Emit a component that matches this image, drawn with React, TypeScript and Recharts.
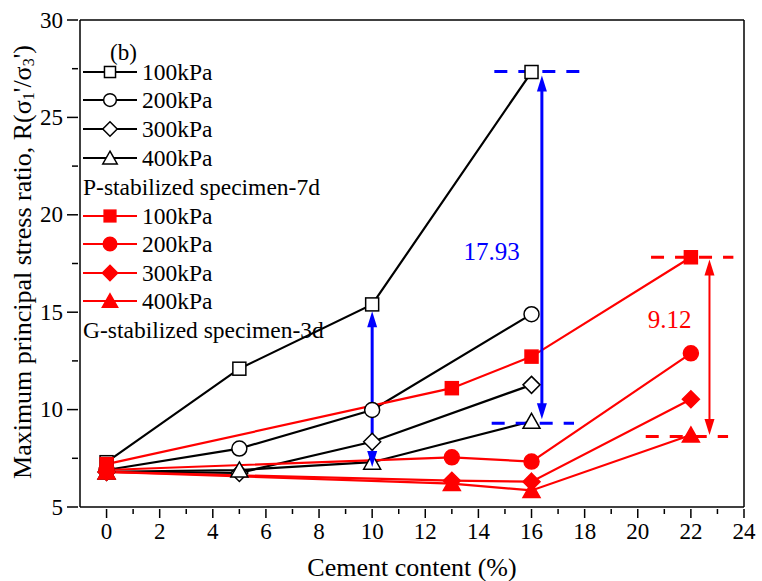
import { LineChart, Line, XAxis, YAxis, ReferenceLine, ReferenceDot } from 'recharts';

const F = "'Liberation Serif', 'Times New Roman', serif";
const RED = '#ff0000';
const BLUE = '#0000ff';

// P-stabilized specimen-7d (black, hollow)
const P_X = [0, 5, 10, 16];
const P_100 = [7.3, 12.1, 15.4, 27.33];
const P_200 = [6.9, 8.0, 9.98, 14.9];
const P_300 = [6.8, 6.75, 8.35, 11.27];
const P_400 = [6.8, 6.9, 7.3, 9.4];

// G-stabilized specimen-3d (red, filled)
const G_X = [0, 13, 16, 22];
const G_100 = [7.2, 11.1, 12.72, 17.82];
const G_200 = [6.9, 7.55, 7.33, 12.89];
const G_300 = [6.8, 6.35, 6.3, 10.53];
const G_400 = [6.8, 6.2, 5.85, 8.7];

const PRESSURES = ['100kPa', '200kPa', '300kPa', '400kPa'];
const SHAPES = ['square', 'circle', 'diamond', 'triangle'];

const X_TICKS = Array.from({ length: 25 }, (_, i) => i);
const Y_TICKS = [5, 7.5, 10, 12.5, 15, 17.5, 20, 22.5, 25, 27.5, 30];

const toRows = (xs: number[], ys: number[]) => xs.map((x, i) => ({ x, y: ys[i] }));

const SERIES = [
  { name: 'P100', data: toRows(P_X, P_100), color: '#000', filled: false, shape: 'square' },
  { name: 'P200', data: toRows(P_X, P_200), color: '#000', filled: false, shape: 'circle' },
  { name: 'P300', data: toRows(P_X, P_300), color: '#000', filled: false, shape: 'diamond' },
  { name: 'P400', data: toRows(P_X, P_400), color: '#000', filled: false, shape: 'triangle' },
  { name: 'G100', data: toRows(G_X, G_100), color: RED, filled: true, shape: 'square' },
  { name: 'G200', data: toRows(G_X, G_200), color: RED, filled: true, shape: 'circle' },
  { name: 'G300', data: toRows(G_X, G_300), color: RED, filled: true, shape: 'diamond' },
  { name: 'G400', data: toRows(G_X, G_400), color: RED, filled: true, shape: 'triangle' },
];

const Marker = ({ cx, cy, shape, filled, color, s = 1 }: { cx: number; cy: number; shape: string; filled: boolean; color: string; s?: number }) => {
  const fill = filled ? color : '#fff';
  const sw = 1.5;
  if (shape === 'square') {
    const h = 6.5 * s;
    return <rect x={cx - h} y={cy - h} width={2 * h} height={2 * h} fill={fill} stroke={color} strokeWidth={sw} />;
  }
  if (shape === 'circle') return <circle cx={cx} cy={cy} r={7.5 * s} fill={fill} stroke={color} strokeWidth={sw} />;
  if (shape === 'diamond') {
    const h = 8.5 * s;
    return <polygon points={`${cx},${cy - h} ${cx + h},${cy} ${cx},${cy + h} ${cx - h},${cy}`} fill={fill} stroke={color} strokeWidth={sw} />;
  }
  const w = 8.5 * s;
  return <polygon points={`${cx},${cy - 8 * s} ${cx + w},${cy + 7 * s} ${cx - w},${cy + 7 * s}`} fill={fill} stroke={color} strokeWidth={sw} />;
};

// plain serif text helper
const T = ({ size, children, ...rest }: any) => (
  <text {...rest} fontSize={size} style={{ fontFamily: F }} dominantBaseline="central">
    {children}
  </text>
);

const XTick = ({ x, y, payload }: any) => {
  const v = payload.value as number;
  const major = v % 2 === 0;
  return (
    <g>
      <line x1={x} x2={x} y1={y} y2={y + (major ? 9 : 5)} stroke="#000" strokeWidth={1.5} />
      {major && (
        <T x={x} y={y + 22} textAnchor="middle" size={23} fill="#000">
          {v}
        </T>
      )}
    </g>
  );
};

const YTick = ({ x, y, payload }: any) => {
  const v = payload.value as number;
  const major = v % 5 === 0;
  return (
    <g>
      <line x1={x} x2={x - (major ? 11 : 6)} y1={y} y2={y} stroke="#000" strokeWidth={1.5} />
      {major && (
        <T x={x - 15} y={y} textAnchor="end" size={23} fill="#000">
          {v}
        </T>
      )}
    </g>
  );
};

const ArrowHead = (dir: 'up' | 'down', color: string) => (props: any) => {
  const { cx, cy } = props;
  const d = dir === 'up' ? 1 : -1;
  return <polygon points={`${cx},${cy} ${cx - 5},${cy + d * 16} ${cx + 5},${cy + d * 16}`} fill={color} />;
};

const TextMark = (text: string, color: string) => (props: any) => (
  <T x={props.cx} y={props.cy} textAnchor="middle" size={25} fill={color}>
    {text}
  </T>
);

const LEG_BLACK_Y = [72, 100, 129, 158];
const LEG_RED_Y = [216, 244, 273, 301];

const Overlay = () => (
  <g fill="#000">
    <T x={110} y={52} size={23}>(b)</T>
    {PRESSURES.map((p, i) => (
      <g key={'b' + p}>
        <line x1={83} x2={137} y1={LEG_BLACK_Y[i]} y2={LEG_BLACK_Y[i]} stroke="#000" strokeWidth={2} />
        <Marker cx={110} cy={LEG_BLACK_Y[i]} shape={SHAPES[i]} filled={false} color="#000" s={0.85} />
        <T x={142} y={LEG_BLACK_Y[i]} size={23.5}>{p}</T>
      </g>
    ))}
    <T x={83} y={187} size={23.5}>P-stabilized specimen-7d</T>
    {PRESSURES.map((p, i) => (
      <g key={'r' + p}>
        <line x1={83} x2={137} y1={LEG_RED_Y[i]} y2={LEG_RED_Y[i]} stroke={RED} strokeWidth={2} />
        <Marker cx={110} cy={LEG_RED_Y[i]} shape={SHAPES[i]} filled color={RED} s={0.9} />
        <T x={142} y={LEG_RED_Y[i]} size={23.5}>{p}</T>
      </g>
    ))}
    <T x={83} y={330} size={23.5}>G-stabilized specimen-3d</T>
    <T x={412} y={567} size={26} textAnchor="middle">Cement content (%)</T>
    <text x={22} y={262} fontSize={26} style={{ fontFamily: F }} textAnchor="middle" dominantBaseline="central" transform="rotate(-90 22 262)">
      Maximum principal stress ratio, R(σ<tspan fontSize={16} dy={6}>1</tspan>
      <tspan dy={-6}>'/σ</tspan>
      <tspan fontSize={16} dy={6}>3</tspan>
      <tspan dy={-6}>')</tspan>
    </text>
  </g>
);

export default function App() {
  return (
    <div style={{ position: 'absolute', left: 0, top: 0, background: '#fff' }}>
      <LineChart width={762} height={581} margin={{ top: 20, right: 18, bottom: 0, left: 0 }}>
        <XAxis
          dataKey="x"
          type="number"
          domain={[-1, 24]}
          ticks={X_TICKS}
          interval={0}
          allowDuplicatedCategory={false}
          height={74}
          tickSize={0}
          tickLine={false}
          tick={<XTick />}
          axisLine={{ stroke: '#000', strokeWidth: 1.5 }}
        />
        <YAxis
          type="number"
          domain={[5, 30]}
          ticks={Y_TICKS}
          interval={0}
          width={80}
          tickSize={0}
          tickLine={false}
          tick={<YTick />}
          axisLine={{ stroke: '#000', strokeWidth: 1.5 }}
        />
        <ReferenceLine y={30} stroke="#000" strokeWidth={1.5} />
        <ReferenceLine x={24} stroke="#000" strokeWidth={1.5} />

        {SERIES.map((s) => (
          <Line
            key={s.name}
            data={s.data}
            dataKey="y"
            type="linear"
            stroke={s.color}
            strokeWidth={2.2}
            isAnimationActive={false}
            dot={(p: any) => <Marker key={s.name + p.index} cx={p.cx} cy={p.cy} shape={s.shape} filled={s.filled} color={s.color} />}
            activeDot={false}
          />
        ))}

        {/* blue: P-stabilized spread */}
        <ReferenceLine segment={[{ x: 14.6, y: 27.35 }, { x: 17.8, y: 27.35 }]} stroke={BLUE} strokeWidth={3} strokeDasharray="13 11" />
        <ReferenceLine segment={[{ x: 14.5, y: 9.3 }, { x: 17.6, y: 9.3 }]} stroke={BLUE} strokeWidth={3} strokeDasharray="13 11" />
        <ReferenceLine segment={[{ x: 16.39, y: 26.5 }, { x: 16.39, y: 10.1 }]} stroke={BLUE} strokeWidth={3} />
        <ReferenceDot x={16.39} y={27.15} r={0} shape={ArrowHead('up', BLUE)} />
        <ReferenceDot x={16.39} y={9.5} r={0} shape={ArrowHead('down', BLUE)} />
        <ReferenceLine segment={[{ x: 10, y: 14.4 }, { x: 10, y: 7.9 }]} stroke={BLUE} strokeWidth={3} />
        <ReferenceDot x={10} y={15.05} r={0} shape={ArrowHead('up', BLUE)} />
        <ReferenceDot x={10} y={7.05} r={0} shape={ArrowHead('down', BLUE)} />
        <ReferenceDot x={14.5} y={18.1} r={0} shape={TextMark('17.93', BLUE)} />

        {/* red: G-stabilized spread */}
        <ReferenceLine segment={[{ x: 20.5, y: 17.82 }, { x: 23.6, y: 17.82 }]} stroke={RED} strokeWidth={3} strokeDasharray="13 11" />
        <ReferenceLine segment={[{ x: 20.3, y: 8.62 }, { x: 23.4, y: 8.62 }]} stroke={RED} strokeWidth={3} strokeDasharray="13 11" />
        <ReferenceLine segment={[{ x: 22.7, y: 17.0 }, { x: 22.7, y: 9.3 }]} stroke={RED} strokeWidth={2} />
        <ReferenceDot x={22.7} y={17.7} r={0} shape={ArrowHead('up', RED)} />
        <ReferenceDot x={22.7} y={8.7} r={0} shape={ArrowHead('down', RED)} />
        <ReferenceDot x={21.2} y={14.6} r={0} shape={TextMark('9.12', RED)} />

        <Overlay />
      </LineChart>
    </div>
  );
}
